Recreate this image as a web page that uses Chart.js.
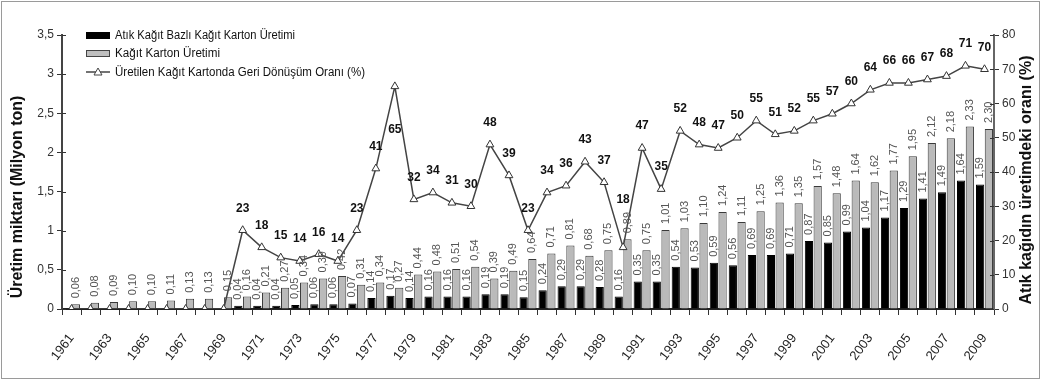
<!DOCTYPE html>
<html lang="tr">
<head>
<meta charset="utf-8">
<script src="https://cdn.jsdelivr.net/npm/chart.js@4.4.1/dist/chart.umd.min.js"></script>
<style>
  html, body { margin: 0; padding: 0; background: #fff; }
  canvas { display: block; }
</style>
</head>
<body>
<canvas id="c" width="1041" height="380"></canvas>
<script>
// Yıllar (kategori ekseni)
const years = ['1961','1962','1963','1964','1965','1966','1967','1968','1969','1970',
  '1971','1972','1973','1974','1975','1976','1977','1978','1979','1980',
  '1981','1982','1983','1984','1985','1986','1987','1988','1989','1990',
  '1991','1992','1993','1994','1995','1996','1997','1998','1999','2000',
  '2001','2002','2003','2004','2005','2006','2007','2008','2009'];

// Atık kağıt bazlı kağıt karton üretimi (milyon ton)
const atikKagitBazli = [null, null, null, null, null, null, null, null, null, 0.04,
  0.04, 0.04, 0.05, 0.06, 0.06, 0.07, 0.14, 0.17, 0.14, 0.16,
  0.16, 0.16, 0.19, 0.19, 0.15, 0.24, 0.29, 0.29, 0.28, 0.16,
  0.35, 0.35, 0.54, 0.53, 0.59, 0.56, 0.69, 0.69, 0.71, 0.87,
  0.85, 0.99, 1.04, 1.17, 1.29, 1.41, 1.49, 1.64, 1.59];

// Toplam kağıt karton üretimi (milyon ton)
const kagitKartonUretimi = [0.06, 0.08, 0.09, 0.10, 0.10, 0.11, 0.13, 0.13, 0.15, 0.16,
  0.21, 0.27, 0.34, 0.39, 0.42, 0.31, 0.34, 0.27, 0.44, 0.48,
  0.51, 0.54, 0.39, 0.49, 0.64, 0.71, 0.81, 0.68, 0.75, 0.89,
  0.75, 1.01, 1.03, 1.10, 1.24, 1.11, 1.25, 1.36, 1.35, 1.57,
  1.48, 1.64, 1.62, 1.77, 1.95, 2.12, 2.18, 2.33, 2.30];

// Üretilen kağıt kartonda geri dönüşüm oranı (%)
const geriDonusumOrani = [0, 0, 0, 0, 0, 0, 0, 0, 0, 23,
  18, 15, 14, 16, 14, 23, 41, 65, 32, 34,
  31, 30, 48, 39, 23, 34, 36, 43, 37, 18,
  47, 35, 52, 48, 47, 50, 55, 51, 52, 55,
  57, 60, 64, 66, 66, 67, 68, 71, 70];

const seriesNames = ['Atık Kağıt Bazlı Kağıt Karton Üretimi', 'Kağıt Karton Üretimi',
  'Üretilen Kağıt Kartonda Geri Dönüşüm Oranı (%)'];
const leftTitle = 'Üretim miktarı (Milyon ton)';
const rightTitle = 'Atık kağıdın üretimdeki oranı (%)';

const FONT = '"Liberation Sans", Arial, sans-serif';
const NARROW = '"Liberation Sans Narrow", "Arial Narrow", "Liberation Sans", Arial, sans-serif';
const comma = v => String(v).replace('.', ',');
const fmt2 = v => v.toFixed(2).replace('.', ',');

// Sütun ve çizgi değer etiketleri
const valueLabels = {
  id: 'valueLabels',
  afterDatasetsDraw(chart) {
    const ctx = chart.ctx;
    const gap = 6;
    ctx.save();
    ctx.font = '11px ' + FONT;
    ctx.fillStyle = '#555';
    ctx.textAlign = 'left';
    ctx.textBaseline = 'middle';
    const grayTops = [];
    [0, 1].forEach(di => {
      const meta = chart.getDatasetMeta(di);
      const data = chart.data.datasets[di].data;
      meta.data.forEach((el, i) => {
        const v = data[i];
        if (v == null) return;
        const txt = fmt2(v);
        ctx.save();
        ctx.translate(el.x, el.y - gap);
        ctx.rotate(-Math.PI / 2);
        ctx.fillText(txt, 0, 0);
        ctx.restore();
        if (di === 1) grayTops[i] = el.y - gap - ctx.measureText(txt).width;
      });
    });

    // oran etiketleri
    const meta = chart.getDatasetMeta(2);
    const data = chart.data.datasets[2].data;
    ctx.font = 'bold 12px ' + FONT;
    ctx.fillStyle = '#111';
    ctx.textAlign = 'center';
    meta.data.forEach((el, i) => {
      const v = data[i];
      if (!v) return;
      const prev = data[i - 1] ?? v, next = data[i + 1] ?? v;
      let cy;
      if (v - prev > 15 && v - next > 15) {
        cy = el.y + 43;                // keskin tepe: etiket noktanın altında
      } else {
        cy = el.y - 22;
        const top = grayTops[i];
        if (top !== undefined && cy + 7 > top) cy = top - 12;
      }
      ctx.fillText(String(v), el.x, cy);
    });
    ctx.restore();
  }
};

// Eksen başlıkları, gösterge, y ekseni iç çentikleri ve çerçeve
const decorations = {
  id: 'decorations',
  afterDraw(chart) {
    const ctx = chart.ctx;
    const area = chart.chartArea;
    ctx.save();

    // y eksenlerinde içe doğru kısa çentikler
    ctx.strokeStyle = '#333';
    ctx.lineWidth = 1;
    const yl = chart.scales.y, yr = chart.scales.y1;
    yl.ticks.forEach(t => {
      const py = Math.round(yl.getPixelForValue(t.value)) + 0.5;
      ctx.beginPath(); ctx.moveTo(area.left, py); ctx.lineTo(area.left + 4, py); ctx.stroke();
    });
    yr.ticks.forEach(t => {
      const py = Math.round(yr.getPixelForValue(t.value)) + 0.5;
      ctx.beginPath(); ctx.moveTo(area.right, py); ctx.lineTo(area.right - 4, py); ctx.stroke();
    });

    // eksen başlıkları
    ctx.fillStyle = '#111';
    ctx.font = 'bold 16px ' + FONT;
    ctx.textAlign = 'center';
    ctx.textBaseline = 'middle';
    ctx.save();
    ctx.translate(18, 197);
    ctx.rotate(-Math.PI / 2);
    ctx.fillText(leftTitle, 0, 0);
    ctx.restore();
    ctx.save();
    ctx.translate(1027, 180);
    ctx.rotate(-Math.PI / 2);
    ctx.fillText(rightTitle, 0, 0);
    ctx.restore();

    // gösterge
    const lx = 86, lw = 24, tx = 115;
    const rows = [35, 53, 72];
    ctx.font = '12px ' + NARROW;
    ctx.textAlign = 'left';
    ctx.fillStyle = '#000';
    ctx.fillRect(lx, rows[0] - 3, lw, 7);
    ctx.fillStyle = '#bfbfbf';
    ctx.fillRect(lx, rows[1] - 3, lw, 7);
    ctx.strokeStyle = '#444';
    ctx.strokeRect(lx + 0.5, rows[1] - 2.5, lw - 1, 6);
    ctx.lineWidth = 1.5;
    ctx.beginPath(); ctx.moveTo(lx, rows[2]); ctx.lineTo(lx + lw, rows[2]); ctx.stroke();
    ctx.lineWidth = 1;
    ctx.fillStyle = '#fff';
    ctx.beginPath();
    ctx.moveTo(lx + lw / 2, rows[2] - 4);
    ctx.lineTo(lx + lw / 2 + 4, rows[2] + 3);
    ctx.lineTo(lx + lw / 2 - 4, rows[2] + 3);
    ctx.closePath(); ctx.fill(); ctx.stroke();
    ctx.fillStyle = '#111';
    const widths = [180, 105, 250];
    seriesNames.forEach((s, i) => ctx.fillText(s, tx, rows[i] + 1, widths[i]));

    // dış çerçeve
    ctx.strokeStyle = '#9a9a9a';
    ctx.lineWidth = 1;
    ctx.strokeRect(1.5, 1.5, chart.width - 3, chart.height - 3);
    ctx.restore();
  }
};

new Chart(document.getElementById('c'), {
  data: {
    labels: years,
    datasets: [
      {
        type: 'bar', label: seriesNames[0], data: atikKagitBazli, yAxisID: 'y',
        backgroundColor: '#000', borderColor: '#000', borderWidth: 1,
        categoryPercentage: 0.92, barPercentage: 0.94, order: 2
      },
      {
        type: 'bar', label: seriesNames[1], data: kagitKartonUretimi, yAxisID: 'y',
        backgroundColor: '#bababa', borderColor: '#3a3a3a', borderWidth: 1,
        categoryPercentage: 0.92, barPercentage: 0.94, order: 2
      },
      {
        type: 'line', label: seriesNames[2], data: geriDonusumOrani, yAxisID: 'y1',
        borderColor: '#444', borderWidth: 1.5, tension: 0,
        pointStyle: 'triangle', pointRadius: 4.5, pointBackgroundColor: '#fff',
        pointBorderColor: '#333', pointBorderWidth: 1, order: 0
      }
    ]
  },
  options: {
    responsive: false,
    animation: false,
    devicePixelRatio: 1,
    layout: { padding: { top: 35, left: 0, right: 0, bottom: 0 } },
    plugins: { legend: { display: false }, tooltip: { enabled: false } },
    scales: {
      x: {
        offset: true,
        grid: { drawOnChartArea: false, offset: true, tickLength: 6, color: '#333' },
        border: { color: '#222', width: 2 },
        ticks: {
          autoSkip: false, maxRotation: 53, minRotation: 53, padding: 16,
          color: '#222', font: { family: FONT, size: 13 },
          callback: (v, i) => (i % 2 === 0 ? years[i] : '')
        },
        afterFit: s => { s.height = 71; }
      },
      y: {
        position: 'left', min: 0, max: 3.5,
        grid: { drawOnChartArea: false, tickLength: 5, color: '#333' },
        border: { color: '#444', width: 2 },
        ticks: { stepSize: 0.5, padding: 3, color: '#333', font: { family: FONT, size: 12 },
          callback: v => comma(v) },
        afterFit: s => { s.width = 62; }
      },
      y1: {
        position: 'right', min: 0, max: 80,
        grid: { drawOnChartArea: false, tickLength: 5, color: '#333' },
        border: { color: '#666', width: 2 },
        ticks: { stepSize: 10, padding: 3, color: '#333', font: { family: FONT, size: 12 } },
        afterFit: s => { s.width = 47; }
      }
    }
  },
  plugins: [valueLabels, decorations]
});
</script>
</body>
</html>
